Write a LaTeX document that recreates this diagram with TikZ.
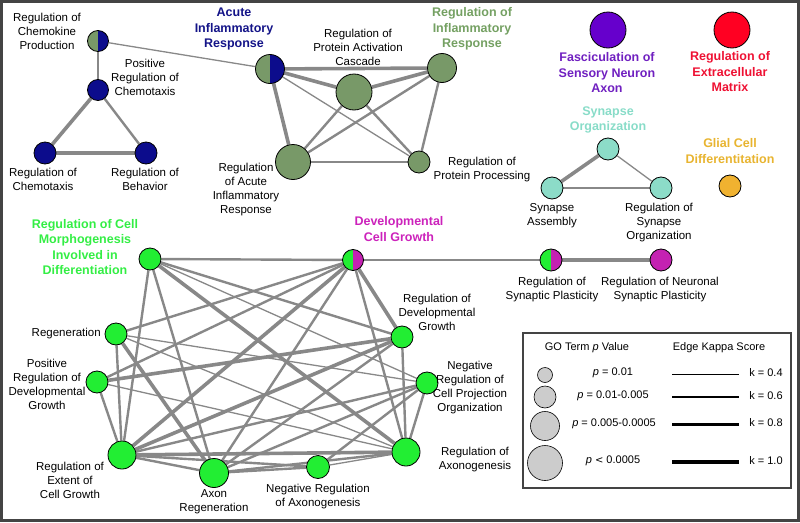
\documentclass[tikz,border=0pt]{standalone}
\usepackage{fontspec}
\setmainfont{Liberation Sans}
\usetikzlibrary{backgrounds}
\definecolor{navy}{RGB}{12,12,140}
\definecolor{olive}{RGB}{120,153,104}
\definecolor{lgreen}{RGB}{34,238,51}
\definecolor{mag}{RGB}{196,34,178}
\definecolor{teal2}{RGB}{140,220,200}
\definecolor{purp}{RGB}{102,0,204}
\definecolor{redd}{RGB}{255,0,34}
\definecolor{orng}{RGB}{240,178,48}
\definecolor{tnavy}{RGB}{20,20,136}
\definecolor{tolive}{RGB}{116,160,98}
\definecolor{tpurp}{RGB}{112,32,192}
\definecolor{tred}{RGB}{238,17,51}
\definecolor{tteal}{RGB}{136,220,200}
\definecolor{torng}{RGB}{232,180,48}
\definecolor{tgreen}{RGB}{51,238,68}
\definecolor{tmag}{RGB}{204,34,187}
\definecolor{edgegray}{RGB}{136,136,136}
\definecolor{frame}{RGB}{68,68,68}
\definecolor{leggray}{RGB}{204,204,204}
\begin{document}
\begin{tikzpicture}[x=1pt,y=-1pt,
  gonode/.style={circle,draw=black,line width=0.8pt,inner sep=0pt,minimum size=#1},
  halfn/.style={path picture={\fill[#1] (path picture bounding box.north) rectangle (path picture bounding box.south east);}},
  lab/.style={align=center,font=\fontsize{11.5}{14}\selectfont,inner sep=0pt},
  ttl/.style={align=center,font=\fontsize{12.5}{15.5}\selectfont\bfseries,inner sep=0pt},
  legt/.style={align=center,font=\fontsize{11}{13}\selectfont,inner sep=0pt},
  ethin/.style={draw=edgegray,line width=1.3pt},
  emed/.style={draw=edgegray,line width=2.4pt},
  ethick/.style={draw=edgegray,line width=3.6pt}]
\useasboundingbox (0,0) rectangle (800,522);
\draw[line width=3pt,frame] (1.5,1.5) rectangle (798.5,520.5);

% ---- blue cluster
\node[gonode=21pt,fill=olive,halfn=navy] (CP) at (98,41) {};
\node[gonode=21pt,fill=navy] (PRC) at (98,90) {};
\node[gonode=22pt,fill=navy] (RC) at (45,153) {};
\node[gonode=22pt,fill=navy] (RB) at (146,153) {};
% ---- olive cluster
\node[gonode=29pt,fill=olive,halfn=navy] (AIR) at (270,69) {};
\node[gonode=36pt,fill=olive] (PAC) at (354,92) {};
\node[gonode=29pt,fill=olive] (RIR) at (442,68) {};
\node[gonode=35pt,fill=olive] (RAIR) at (293,162) {};
\node[gonode=22pt,fill=olive] (RPP) at (419,162) {};
% ---- singles
\node[gonode=36pt,fill=purp] (FSN) at (608,30) {};
\node[gonode=36pt,fill=redd] (REM) at (732,30) {};
\node[gonode=22pt,fill=teal2] (SO) at (608,149) {};
\node[gonode=22pt,fill=teal2] (SA) at (552,188) {};
\node[gonode=22pt,fill=teal2] (RSO) at (661,188) {};
\node[gonode=22pt,fill=orng] (GCD) at (730,186) {};
\node[gonode=22pt,fill=lgreen,halfn=mag] (RSP) at (551,260) {};
\node[gonode=22pt,fill=mag] (RNSP) at (661,260) {};
% ---- green cluster
\node[gonode=22pt,fill=lgreen] (CM) at (150,259) {};
\node[gonode=21pt,fill=lgreen,halfn=mag] (DCG) at (353,260) {};
\node[gonode=22pt,fill=lgreen] (RG) at (116,334) {};
\node[gonode=22pt,fill=lgreen] (PRDG) at (97,382) {};
\node[gonode=22pt,fill=lgreen] (RDG) at (402,337) {};
\node[gonode=22pt,fill=lgreen] (NRCP) at (427,383) {};
\node[gonode=28pt,fill=lgreen] (REX) at (122,455) {};
\node[gonode=29pt,fill=lgreen] (AR) at (214,473) {};
\node[gonode=23pt,fill=lgreen] (NRA) at (318,467) {};
\node[gonode=28pt,fill=lgreen] (RAX) at (406,452) {};

\begin{scope}[on background layer]
% blue
\path[emed] (CP) -- (PRC);
\path[ethick] (PRC) -- (RC);
\path[emed] (PRC) -- (RB);
\path[ethick] (RC) -- (RB);
\path[ethin] (CP) -- (AIR);
% olive
\path[ethick] (AIR) -- (RIR);
\path[ethick] (AIR) -- (PAC);
\path[ethick] (AIR) -- (RAIR);
\path[ethin] (AIR) -- (RPP);
\path[ethick] (PAC) -- (RIR);
\path[emed] (PAC) -- (RAIR);
\path[emed] (PAC) -- (RPP);
\path[emed] (RIR) -- (RAIR);
\path[emed] (RIR) -- (RPP);
\path[emed] (RAIR) -- (RPP);
% teal
\path[ethick] (SO) -- (SA);
\path[emed] (SA) -- (RSO);
\path[ethin] (SO) -- (RSO);
% synaptic
\path[ethin] (DCG) -- (RSP);
\path[ethick] (RSP) -- (RNSP);
% green
\path[emed] (CM) -- (DCG);
\path[emed] (CM) -- (REX);
\path[emed] (CM) -- (AR);
\path[ethick] (CM) -- (RAX);
\path[emed] (CM) -- (RDG);
\path[ethin] (CM) -- (NRCP);
\path[ethick] (DCG) -- (RDG);
\path[emed] (DCG) -- (RAX);
\path[ethick] (DCG) -- (REX);
\path[emed] (DCG) -- (PRDG);
\path[emed] (DCG) -- (RG);
\path[emed] (DCG) -- (AR);
\path[emed] (RG) -- (REX);
\path[ethick] (RG) -- (AR);
\path[ethin] (RG) -- (NRCP);
\path[ethin] (RG) -- (RAX);
\path[emed] (PRDG) -- (REX);
\path[ethick] (PRDG) -- (RDG);
\path[ethin] (PRDG) -- (RAX);
\path[ethick] (REX) -- (RDG);
\path[emed] (REX) -- (NRCP);
\path[ethick] (REX) -- (RAX);
\path[emed] (REX) -- (NRA);
\path[emed] (REX) -- (AR);
\path[emed] (AR) -- (RDG);
\path[emed] (AR) -- (NRCP);
\path[emed] (AR) -- (RAX);
\path[emed] (AR) -- (NRA);
\path[ethin] (NRA) -- (RAX);
\path[emed] (NRA) -- (NRCP);
\path[emed] (NRCP) -- (RAX);
\path[emed] (RDG) -- (RAX);
\end{scope}

% ---- labels
\node[lab] (lCP) at (47,31) {Regulation of\\Chemokine\\Production};
\node[lab] (lPRC) at (145,77) {Positive\\Regulation of\\Chemotaxis};
\node[lab] (lRC) at (43,179) {Regulation of\\Chemotaxis};
\node[lab] (lRB) at (145,179) {Regulation of\\Behavior};
\node[ttl,text=tnavy] (tAIR) at (234,29) {Acute\\Inflammatory\\Response};
\node[lab] (lPAC) at (358,47) {Regulation of\\Protein Activation\\Cascade};
\node[ttl,text=tolive] (tRIR) at (472,29) {Regulation of\\Inflammatory\\Response};
\node[lab] (lRPP) at (482,170) {Regulation of\\Protein Processing};
\node[lab] (lRAIR) at (246,190) {Regulation\\of Acute\\Inflammatory\\Response};
\node[ttl,text=tpurp] (tFSN) at (607,73) {Fasciculation of\\Sensory Neuron\\Axon};
\node[ttl,text=tred] (tREM) at (730,72) {Regulation of\\Extracellular\\Matrix};
\node[ttl,text=tteal] (tSO) at (608,120) {Synapse\\Organization};
\node[ttl,text=torng] (tGCD) at (730,151) {Glial Cell\\Differentitation};
\node[lab] (lSA) at (552,216) {Synapse\\Assembly};
\node[lab] (lRSO) at (659,223) {Regulation of\\Synapse\\Organization};
\node[lab] (lRSP) at (552,290) {Regulation of\\Synaptic Plasticity};
\node[lab] (lRNSP) at (660,290) {Regulation of Neuronal\\Synaptic Plasticity};
\node[ttl,text=tgreen] (tCM) at (85,247) {Regulation of Cell\\Morphogenesis\\Involved in\\Differentiation};
\node[ttl,text=tmag] (tDCG) at (399,229) {Developmental\\Cell Growth};
\node[lab,anchor=east] (lRG) at (101,334) {Regeneration};
\node[lab] (lPRDG) at (47,384) {Positive\\Regulation of\\Developmental\\Growth};
\node[lab] (lRDG) at (437,312) {Regulation of\\Developmental\\Growth};
\node[lab] (lNRCP) at (470,388) {Negative\\Regulation of\\Cell Projection\\Organization};
\node[lab] (lREX) at (70,480) {Regulation of\\Extent of\\Cell Growth};
\node[lab] (lAR) at (214,502) {Axon\\Regeneration};
\node[lab] (lNRA) at (318,497) {Negative Regulation\\of Axonogenesis};
\node[lab] (lRAX) at (475,460) {Regulation of\\Axonogenesis};

% ---- legend
\node[draw=frame,line width=1.2pt,minimum width=268pt,minimum height=155pt,inner sep=0pt] (legbox) at (657,410.5) {};
\node[legt] (lh1) at (587,348) {GO Term \textit{p} Value};
\node[legt] (lh2) at (719,348) {Edge Kappa Score};
\node[gonode=15pt,fill=leggray,line width=0.6pt] (c1) at (545,375) {};
\node[gonode=22pt,fill=leggray,line width=0.6pt] (c2) at (545,397) {};
\node[gonode=29pt,fill=leggray,line width=0.6pt] (c3) at (545,426) {};
\node[gonode=35pt,fill=leggray,line width=0.6pt] (c4) at (545,463) {};
\node[legt] (p1) at (613,373) {\textit{p} = 0.01};
\node[legt] (p2) at (613,396) {\textit{p} = 0.01-0.005};
\node[legt] (p3) at (614,424) {\textit{p} = 0.005-0.0005};
\node[legt] (p4) at (613,461) {\textit{p} {\fontspec{DejaVu Sans}\fontsize{10}{12}\selectfont <} 0.0005};
\coordinate (a1) at (672,374); \coordinate (b1) at (739,374);
\coordinate (a2) at (672,397); \coordinate (b2) at (739,397);
\coordinate (a3) at (672,424); \coordinate (b3) at (739,424);
\coordinate (a4) at (672,462); \coordinate (b4) at (739,462);
\draw[line width=1pt] (a1) -- (b1);
\draw[line width=2pt] (a2) -- (b2);
\draw[line width=3pt] (a3) -- (b3);
\draw[line width=4.5pt] (a4) -- (b4);
\node[legt] (k1) at (766,373) {k = 0.4};
\node[legt] (k2) at (766,396) {k = 0.6};
\node[legt] (k3) at (766,423) {k = 0.8};
\node[legt] (k4) at (766,461) {k = 1.0};
\end{tikzpicture}
\end{document}
